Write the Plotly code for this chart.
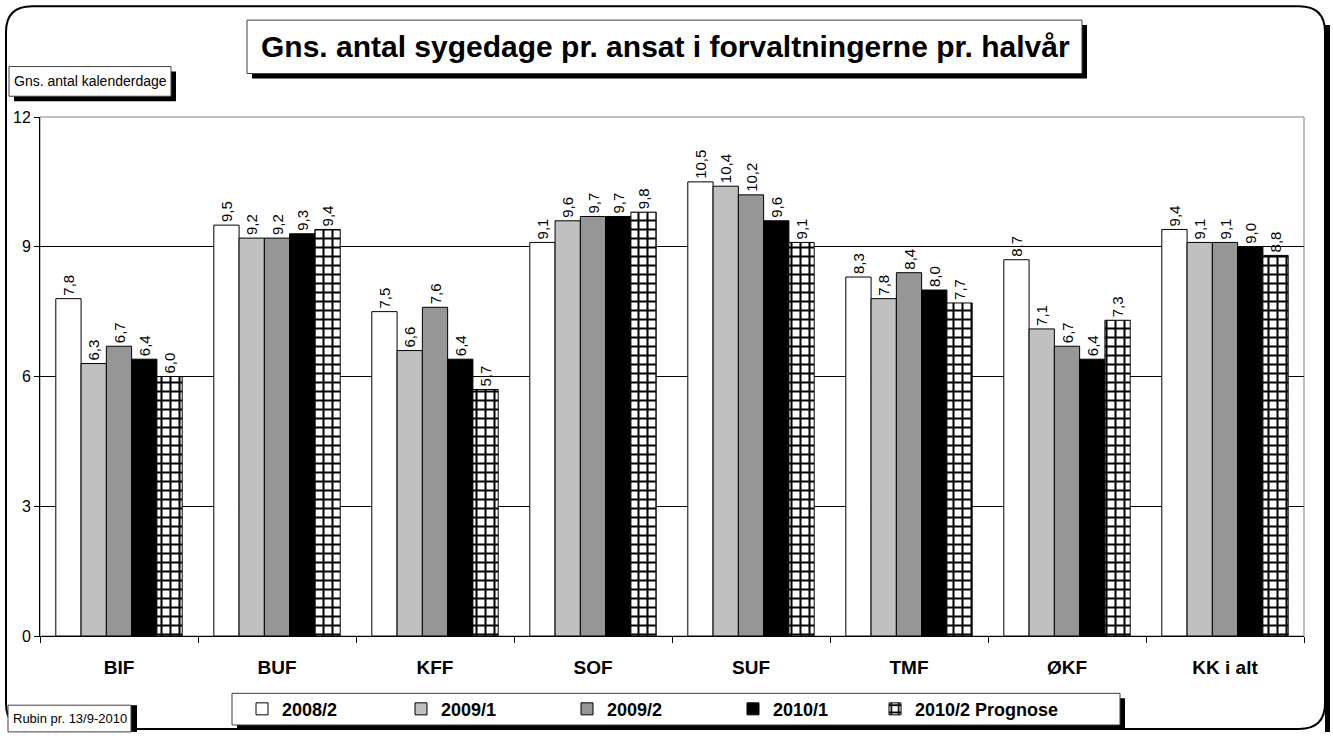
import plotly.graph_objects as go

categories = ["BIF", "BUF", "KFF", "SOF", "SUF", "TMF", "ØKF", "KK i alt"]
series_names = ["2008/2", "2009/1", "2009/2", "2010/1", "2010/2 Prognose"]
v_2008_2 = [7.8, 9.5, 7.5, 9.1, 10.5, 8.3, 8.7, 9.4]
v_2009_1 = [6.3, 9.2, 6.6, 9.6, 10.4, 7.8, 7.1, 9.1]
v_2009_2 = [6.7, 9.2, 7.6, 9.7, 10.2, 8.4, 6.7, 9.1]
v_2010_1 = [6.4, 9.3, 6.4, 9.7, 9.6, 8.0, 6.4, 9.0]
v_2010_2 = [6.0, 9.4, 5.7, 9.8, 9.1, 7.7, 7.3, 8.8]
series_values = [v_2008_2, v_2009_1, v_2009_2, v_2010_1, v_2010_2]
y_ticks = [0, 3, 6, 9, 12]

W, H = 1333, 740
L, R, T, B = 40, 29, 117, 98
PW = W - L - R
PH = H - T - B
FONT = "Arial, Liberation Sans, sans-serif"


def px(x):
    return (x - L) / PW


def py(y):
    return (H - B - y) / PH


colors = ["#FFFFFF", "#C0C0C0", "#969696", "#000000", "#FFFFFF"]
legend_ids = ["legend", "legend2", "legend3", "legend4", "legend5"]
legend_text_x = [282, 441, 607, 773, 915]

fig = go.Figure()
for i, (name, vals) in enumerate(zip(series_names, series_values)):
    marker = dict(color=colors[i], line=dict(color="black", width=1))
    if i == 4:
        marker["pattern"] = dict(shape="+", fgcolor="black", bgcolor="white",
                                 size=9, solidity=0.4, fillmode="replace")
    fig.add_trace(go.Bar(
        x=categories, y=vals, name=name, marker=marker, legend=legend_ids[i],
        text=[f"{v:.1f}".replace(".", ",") for v in vals],
        textposition="outside", textangle=-90, constraintext="none",
        textfont=dict(family=FONT, size=15, color="black"),
        cliponaxis=False,
    ))

shapes = []


def box(x0, y0, x1, y1, sh=5, layer="above"):
    shapes.append(dict(type="rect", xref="paper", yref="paper",
                       x0=px(x0 + sh), x1=px(x1 + sh), y0=py(y0 + sh), y1=py(min(y1 + sh, 739)),
                       fillcolor="black", line=dict(width=0), layer=layer))
    shapes.append(dict(type="rect", xref="paper", yref="paper",
                       x0=px(x0), x1=px(x1), y0=py(y0), y1=py(y1),
                       fillcolor="white", line=dict(color="#404040", width=1), layer=layer))


def rounded(x0, y0, x1, y1, r):
    return (f"M {px(x0 + r)},{py(y0)} L {px(x1 - r)},{py(y0)} "
            f"Q {px(x1)},{py(y0)} {px(x1)},{py(y0 + r)} "
            f"L {px(x1)},{py(y1 - r)} Q {px(x1)},{py(y1)} {px(x1 - r)},{py(y1)} "
            f"L {px(x0 + r)},{py(y1)} Q {px(x0)},{py(y1)} {px(x0)},{py(y1 - r)} "
            f"L {px(x0)},{py(y0 + r)} Q {px(x0)},{py(y0)} {px(x0 + r)},{py(y0)} Z")


# outer rounded frame with shadow (kept inside the figure)
shapes.append(dict(type="rect", xref="paper", yref="paper",
                   x0=px(1325), x1=px(1330), y0=py(24), y1=py(739),
                   fillcolor="black", line=dict(width=0), layer="below"))
shapes.append(dict(type="path", xref="paper", yref="paper",
                   path=rounded(6, 5, 1325, 736, 26),
                   fillcolor="white", line=dict(color="black", width=2), layer="below"))

box(247, 19, 1082, 73)
box(9, 66, 171, 96)
box(232, 700, 1120, 732, layer="below")
shapes.append(dict(type="rect", xref="paper", yref="paper",
                   x0=px(131), x1=px(137), y0=py(712), y1=py(739),
                   fillcolor="black", line=dict(width=0), layer="above"))
shapes.append(dict(type="rect", xref="paper", yref="paper",
                   x0=px(8), x1=px(131), y0=py(712), y1=py(739),
                   fillcolor="white", line=dict(color="#404040", width=1), layer="above"))

# plot area grey border
shapes.append(dict(type="rect", xref="paper", yref="paper", x0=0, x1=1, y0=0, y1=1,
                   line=dict(color="#808080", width=1), fillcolor="rgba(0,0,0,0)", layer="below"))

annotations = [
    dict(text="<b>Gns. antal sygedage pr. ansat i forvaltningerne pr. halvår</b>",
         xref="paper", yref="paper", x=px(665), y=py(46), showarrow=False,
         font=dict(family=FONT, size=30, color="black"),
         xanchor="center", yanchor="middle"),
    dict(text="Gns. antal kalenderdage", xref="paper", yref="paper",
         x=px(90), y=py(81), showarrow=False,
         font=dict(family=FONT, size=14, color="black"),
         xanchor="center", yanchor="middle"),
    dict(text="Rubin pr. 13/9-2010", xref="paper", yref="paper",
         x=px(70), y=py(725), showarrow=False,
         font=dict(family=FONT, size=13, color="black"),
         xanchor="center", yanchor="middle"),
]

legends = {}
for lid, tx in zip(legend_ids, legend_text_x):
    legends[lid] = dict(orientation="h", x=px(tx - 40), y=py(716), xanchor="left", yanchor="middle",
                        bgcolor="rgba(0,0,0,0)", borderwidth=0,
                        font=dict(family=FONT, size=18, color="black", weight="bold"),
                        itemclick=False, itemdoubleclick=False)

fig.update_layout(
    width=W, height=H,
    margin=dict(l=L, r=R, t=T, b=B),
    paper_bgcolor="white",
    plot_bgcolor="#FFFFCC",
    barmode="group", bargap=0.2, bargroupgap=0,
    font=dict(family=FONT, color="black"),
    showlegend=True,
    shapes=shapes,
    annotations=annotations,
    **legends,
)
fig.update_yaxes(range=[0, 12], tickvals=y_ticks, showgrid=True, gridcolor="black", gridwidth=1,
                 showline=True, linecolor="black", linewidth=1, ticks="outside", ticklen=5,
                 tickcolor="black", tickfont=dict(size=16), zeroline=False)
fig.update_xaxes(showline=True, linecolor="black", linewidth=1, ticks="outside", ticklen=6,
                 tickson="boundaries", tickcolor="black",
                 tickfont=dict(size=19, weight="bold"), ticklabelstandoff=14)

fig.write_html(
    "out.html",
    config={"displayModeBar": False},
    post_script="document.body.style.margin='0';"
                "document.documentElement.style.overflow='hidden';"
                "document.body.style.overflow='hidden';",
)
